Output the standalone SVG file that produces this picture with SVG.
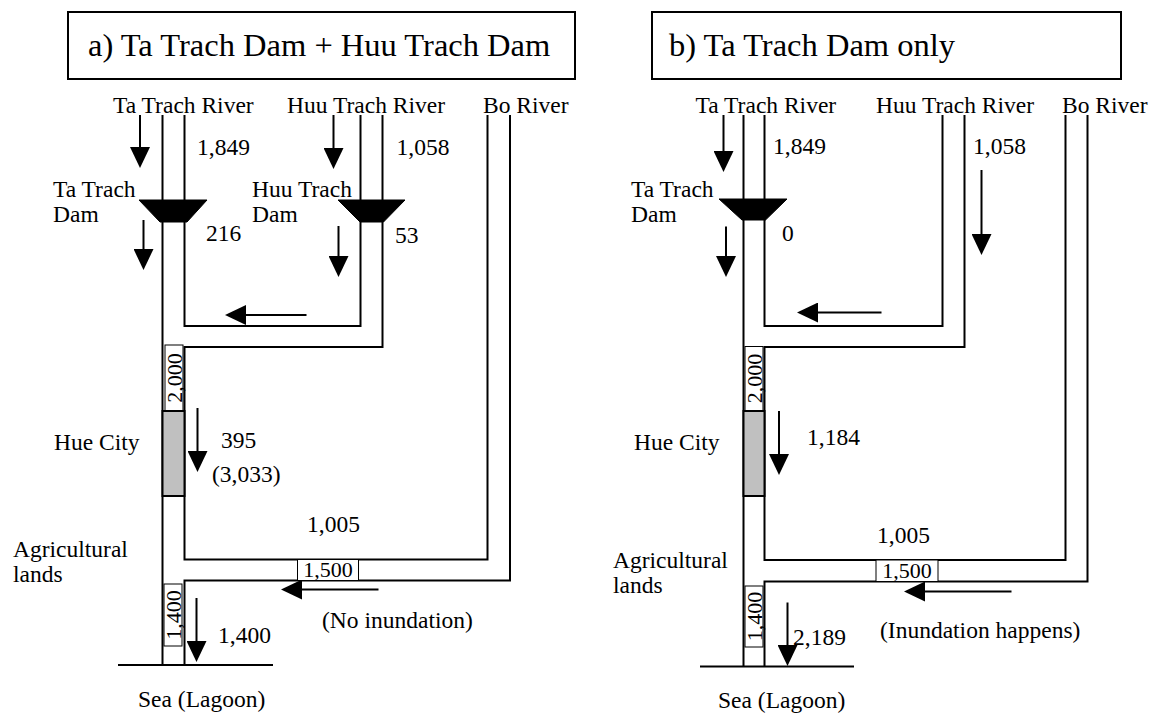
<svg xmlns="http://www.w3.org/2000/svg" width="1152" height="713" viewBox="0 0 1152 713">
  <style>
    .ch { fill: none; stroke: #000; stroke-width: 2; stroke-linejoin: miter; }
    .thin { fill: #fff; stroke: #000; stroke-width: 1; }
    .frame { fill: #fff; stroke: #000; stroke-width: 2; }
    .city { fill: #c0c0c0; stroke: #000; stroke-width: 2; }
    .dam { fill: #000; stroke: #000; stroke-width: 1; stroke-linejoin: round; }
    .arr { fill: none; stroke: #000; stroke-width: 2; marker-end: url(#head); }
    text { font-size: 23.5px; fill: #000; }
    .title { font-size: 32.5px; }
    .cap { font-size: 22px; }
  </style>
  <defs>
    <marker id="head" markerUnits="userSpaceOnUse" markerWidth="21" markerHeight="20" refX="0" refY="10" orient="auto" viewBox="0 0 21 20">
      <path d="M0,0 L21,10 L0,20 Z" fill="#000"/>
    </marker>
  </defs>
  <rect width="1152" height="713" fill="#fff"/>

  <!-- river channels, flow arrows -->
  <g id="connectors">
    <!-- case a: channels -->
    <path class="ch" d="M162.5,115 V665"/>
    <path class="ch" d="M184.5,115 V326 H360.5 V115"/>
    <path class="ch" d="M382.5,115 V347 H184.5 V559.5 H487.5 V115"/>
    <path class="ch" d="M510,115 V580.5 H184.5 V665"/>
    <path class="ch" d="M118,665 H273"/>
    <!-- case a: flow arrows -->
    <path class="arr" d="M140,115 V147"/>
    <path class="arr" d="M143.5,220 V249"/>
    <path class="arr" d="M333.5,115 V148"/>
    <path class="arr" d="M338.5,226 V256"/>
    <path class="arr" d="M306.5,315 H246"/>
    <path class="arr" d="M197.5,408 V451"/>
    <path class="arr" d="M378.5,589.5 H302"/>
    <path class="arr" d="M196.5,598 V641"/>

    <!-- case b: channels -->
    <path class="ch" d="M743.5,115 V666.5"/>
    <path class="ch" d="M764.5,115 V326 H942.5 V115"/>
    <path class="ch" d="M964.5,115 V347 H764.5 V560 H1065.5 V115"/>
    <path class="ch" d="M1087.5,115 V581.5 H764.5 V666.5"/>
    <path class="ch" d="M700,666.5 H854"/>
    <!-- case b: flow arrows -->
    <path class="arr" d="M723.5,115 V151"/>
    <path class="arr" d="M726,226.5 V256"/>
    <path class="arr" d="M981.5,170 V234"/>
    <path class="arr" d="M881.5,312.5 H818"/>
    <path class="arr" d="M779,411 V454"/>
    <path class="arr" d="M1011.5,591.5 H925"/>
    <path class="arr" d="M787.5,602.5 V645"/>
  </g>

  <g id="labels" font-family="'Liberation Serif', 'DejaVu Serif', 'Noto Serif', serif">
  <!-- ===== case a ===== -->
  <g id="title-a">
    <rect class="frame" x="68" y="12" width="507" height="67"/>
    <text class="title" x="88" y="56">a) Ta Trach Dam + Huu Trach Dam</text>
  </g>
  <g id="rivers-a">
    <text x="113" y="113">Ta Trach River</text>
    <text x="287" y="113">Huu Trach River</text>
    <text x="483" y="113">Bo River</text>
    <text x="197" y="155">1,849</text>
    <text x="396.5" y="155">1,058</text>
  </g>
  <g id="ta-trach-dam-a">
    <polygon class="dam" points="139,200 207,200 187,222 160,222"/>
    <text x="53" y="197">Ta Trach</text>
    <text x="53" y="222">Dam</text>
    <text x="206" y="241">216</text>
  </g>
  <g id="huu-trach-dam-a">
    <polygon class="dam" points="338,200 405,200 383.5,222 360,222"/>
    <text x="252" y="197">Huu Trach</text>
    <text x="252" y="222">Dam</text>
    <text x="395" y="243">53</text>
  </g>
  <g id="hue-city-a">
    <rect class="thin" x="165" y="345" width="18" height="66"/>
    <text class="cap" transform="translate(174,378) rotate(-90)" x="0" y="7.5" text-anchor="middle">2,000</text>
    <rect class="city" x="162.5" y="411" width="22" height="85"/>
    <text x="54" y="450">Hue City</text>
    <text x="221" y="448">395</text>
    <text x="212" y="482">(3,033)</text>
  </g>
  <g id="bo-river-a">
    <text x="307" y="532">1,005</text>
    <rect class="thin" x="297.5" y="559.5" width="61" height="21"/>
    <text class="cap" x="328" y="577" text-anchor="middle">1,500</text>
    <text x="322" y="628">(No inundation)</text>
  </g>
  <g id="lowland-a">
    <text x="13" y="557">Agricultural</text>
    <text x="13" y="582">lands</text>
    <rect class="thin" x="164" y="584" width="18" height="62"/>
    <text class="cap" transform="translate(173,615) rotate(-90)" x="0" y="7.5" text-anchor="middle">1,400</text>
    <text x="218" y="643">1,400</text>
    <text x="138" y="707">Sea (Lagoon)</text>
  </g>

  <!-- ===== case b ===== -->
  <g id="title-b">
    <rect class="frame" x="652" y="12" width="469" height="67"/>
    <text class="title" x="669" y="56">b) Ta Trach Dam only</text>
  </g>
  <g id="rivers-b">
    <text x="695.5" y="113">Ta Trach River</text>
    <text x="876" y="113">Huu Trach River</text>
    <text x="1062" y="113">Bo River</text>
    <text x="773" y="154">1,849</text>
    <text x="973" y="154">1,058</text>
  </g>
  <g id="ta-trach-dam-b">
    <polygon class="dam" points="719,199 787,199 765.5,220 742,220"/>
    <text x="631" y="197">Ta Trach</text>
    <text x="631" y="222">Dam</text>
    <text x="782" y="241">0</text>
  </g>
  <g id="hue-city-b">
    <rect class="thin" x="745" y="346.5" width="18" height="64"/>
    <text class="cap" transform="translate(754,378.5) rotate(-90)" x="0" y="7.5" text-anchor="middle">2,000</text>
    <rect class="city" x="743.5" y="411" width="21" height="85"/>
    <text x="634" y="450">Hue City</text>
    <text x="807" y="445">1,184</text>
  </g>
  <g id="bo-river-b">
    <text x="877" y="543">1,005</text>
    <rect class="thin" x="876" y="560" width="62" height="21.5"/>
    <text class="cap" x="907" y="578" text-anchor="middle">1,500</text>
    <text x="880" y="638">(Inundation happens)</text>
  </g>
  <g id="lowland-b">
    <text x="613" y="568">Agricultural</text>
    <text x="613" y="593">lands</text>
    <rect class="thin" x="745" y="586" width="18" height="61"/>
    <text class="cap" transform="translate(754,616.5) rotate(-90)" x="0" y="7.5" text-anchor="middle">1,400</text>
    <text x="793" y="645">2,189</text>
    <text x="718" y="708">Sea (Lagoon)</text>
  </g>
  </g>
</svg>
